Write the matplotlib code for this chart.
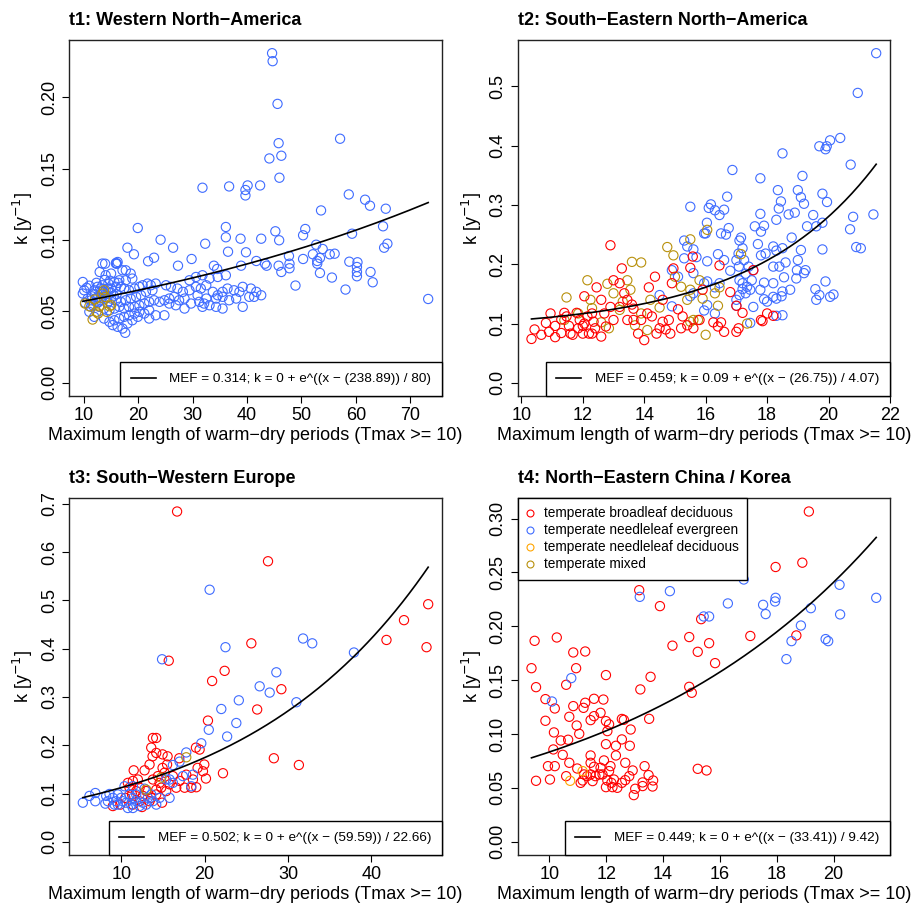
import numpy as np
import matplotlib
matplotlib.use("Agg")
import matplotlib.pyplot as plt
from matplotlib.lines import Line2D

plt.rcParams['font.family'] = ['Liberation Sans', 'DejaVu Sans']

# ---------------- colours (forest types) ----------------
C_BD = "#FF0000"   # temperate broadleaf deciduous
C_NE = "#3F6CFF"   # temperate needleleaf evergreen
C_ND = "#FFA500"   # temperate needleleaf deciduous
C_MX = "#B8900B"   # temperate mixed
legend_types = ["temperate broadleaf deciduous", "temperate needleleaf evergreen",
                "temperate needleleaf deciduous", "temperate mixed"]

XLABEL = "Maximum length of warm\u2212dry periods (Tmax >= 10)"
YLABEL = "k [y$^{-1}$]"

# ---------------- t1: Western North-America ----------------
t1_title = "t1: Western North\u2212America"
t1_ne_x = [44.6, 44.7, 45.6, 57.1, 44.1, 45.8, 46.3, 45.95, 58.7, 61.7, 62.6, 65.5, 53.6, 65.0, 65.2, 65.8,
           45.2, 45.9, 50.7, 50.3, 52.7, 53.9, 52.1, 55.2, 56.1, 59.3, 43.3, 43.6, 45.8, 46.3, 47.7, 47.8,
           47.8, 50.3, 52.9, 52.9, 53.4, 53.4, 55.6, 58.8, 60.3, 60.2, 60.2, 60.2, 62.7, 63.1, 58.1, 48.9, 73.3,
           31.8, 36.7, 40.1, 39.7, 39.7, 42.4, 19.9, 24.1, 32.3, 36.1, 36.1, 36.5, 38.8, 39.8, 42.6, 18.0,
           19.2, 26.4, 29.8, 27.3, 21.8, 22.9, 33.9, 34.5, 38.9, 41.7, 13.9, 16.1, 15.9,
           9.8, 10.05, 9.8, 10.7, 10.25, 11.3, 11.0, 11.9, 13.4, 12.9, 14.0, 15.0, 15.9, 16.2, 17.1, 17.7,
           18.6, 18.9, 17.7, 16.5, 15.6, 14.5, 13.4, 12.5, 11.9, 13.1, 14.0, 15.0, 15.9, 16.8, 17.4, 18.3,
           19.3, 20.2, 20.8, 21.7, 22.3, 23.2, 22.6, 21.4, 20.5, 19.6, 18.6, 17.7, 16.8, 15.9, 15.0, 14.0,
           13.1, 12.2, 11.3, 11.6, 12.8, 13.7, 14.7, 15.6, 16.5, 17.4, 18.3, 19.3, 20.2, 21.1, 22.0, 22.9,
           23.9, 24.8, 25.7, 26.6, 27.5, 28.5, 22.0, 21.1, 20.2, 19.3, 18.3, 17.4, 16.5, 15.6, 14.7, 13.7,
           15.3, 16.2, 17.1, 18.0, 18.9, 19.9, 22.0, 23.2, 24.8, 17.6,
           25.1, 26.0, 27.2, 28.2, 29.4, 30.6, 31.5, 32.5, 33.7, 34.6, 35.5, 36.4, 37.6, 38.6, 39.2, 40.7,
           41.7, 42.6, 25.7, 26.9, 28.5, 29.7, 31.2, 31.8, 33.1, 34.3, 35.5, 36.7, 38.0, 39.2, 40.4, 41.3,
           32.1, 30.9, 32.5, 34.3, 35.5, 29.4, 30.6, 31.8, 33.1, 34.6, 36.1,
           12.0, 12.5, 13.0, 13.5, 14.0, 14.5, 15.0, 15.5, 13.2, 14.3, 12.7, 16.0, 11.5, 10.5, 11.0, 12.3,
           13.8, 14.8, 16.3]
t1_ne_y = [0.2308, 0.2252, 0.1953, 0.1709, 0.1571, 0.1678, 0.159, 0.1436, 0.1319, 0.1282, 0.124, 0.1219, 0.1207,
           0.1096, 0.0946, 0.0974, 0.1061, 0.0998, 0.1077, 0.1033, 0.0967, 0.0937, 0.09, 0.09, 0.0904, 0.1044,
           0.0834, 0.082, 0.082, 0.0776, 0.0888, 0.0834, 0.0802, 0.0867, 0.0853, 0.0834, 0.0769, 0.0874, 0.0737,
           0.0848, 0.0844, 0.0811, 0.0776, 0.0746, 0.0776, 0.0704, 0.0653, 0.0681, 0.0587,
           0.1366, 0.1375, 0.1382, 0.135, 0.1312, 0.1382, 0.1084, 0.1002, 0.0974, 0.1091, 0.1019, 0.0918,
           0.1009, 0.0914, 0.1009, 0.0946, 0.09, 0.0946, 0.0867, 0.082, 0.0851, 0.0876, 0.082, 0.0797, 0.082,
           0.0853, 0.0834, 0.0834, 0.0839,
           0.0706, 0.0648, 0.0625, 0.059, 0.056, 0.0532, 0.0497, 0.0462, 0.0835, 0.0776, 0.0753, 0.0765,
           0.0835, 0.0846, 0.0788, 0.0788, 0.0765, 0.073, 0.0718, 0.0718, 0.0706, 0.0695, 0.0683, 0.0672,
           0.0648, 0.0637, 0.0648, 0.066, 0.0672, 0.0672, 0.066, 0.0648, 0.066, 0.0672, 0.0683, 0.0695,
           0.0683, 0.0695, 0.0648, 0.0637, 0.0613, 0.0602, 0.059, 0.0578, 0.0567, 0.0578, 0.059, 0.059,
           0.0578, 0.0567, 0.0578, 0.0543, 0.0532, 0.052, 0.0508, 0.052, 0.0532, 0.052, 0.0532, 0.0532,
           0.0543, 0.0555, 0.0567, 0.0578, 0.0567, 0.0578, 0.059, 0.0602, 0.0578, 0.059, 0.0508, 0.0485,
           0.0497, 0.0485, 0.0473, 0.0462, 0.045, 0.0438, 0.0427, 0.045, 0.0404, 0.0392, 0.038, 0.0415,
           0.0438, 0.0462, 0.045, 0.0473, 0.0473, 0.0350,
           0.0683, 0.0672, 0.066, 0.0637, 0.0648, 0.0672, 0.066, 0.0683, 0.0637, 0.0613, 0.0637, 0.066,
           0.0648, 0.0637, 0.0672, 0.066, 0.0637, 0.0613, 0.0555, 0.0543, 0.052, 0.0555, 0.0567, 0.0532,
           0.0543, 0.0532, 0.052, 0.0578, 0.059, 0.0532, 0.0602, 0.0602, 0.0555, 0.0613, 0.059, 0.059,
           0.0602, 0.0718, 0.0741, 0.0753, 0.073, 0.0741, 0.0753,
           0.062, 0.060, 0.066, 0.064, 0.062, 0.066, 0.063, 0.061, 0.0595, 0.056, 0.0565, 0.062, 0.0605,
           0.0665, 0.068, 0.070, 0.072, 0.0715, 0.070]
t1_mx_x = [10.2, 11.0, 11.6, 12.3, 12.8, 13.4, 13.9, 14.2, 14.7, 15.0, 12.0, 12.6, 13.7]
t1_mx_y = [0.0555, 0.0536, 0.0443, 0.0497, 0.0536, 0.0625, 0.0601, 0.0497, 0.0536, 0.0543, 0.0583, 0.0485, 0.0648]
t1_fit = dict(a=0.0, b=238.89, c=80.0, mef=0.314)
t1_xticks = [10, 20, 30, 40, 50, 60, 70]
t1_yticks = [0.00, 0.05, 0.10, 0.15, 0.20]
t1_yticklabels = ["0.00", "0.05", "0.10", "0.15", "0.20"]

# ---------------- t2: South-Eastern North-America ----------------
t2_title = "t2: South\u2212Eastern North\u2212America"
t2_ne_x = [21.55, 20.95, 20.38, 20.05, 19.94, 19.7, 19.9, 18.5, 16.87, 17.78, 20.72, 19.15, 18.35, 19.0, 19.1,
           19.8, 19.95, 19.2, 18.45, 18.38, 18.3, 18.7, 18.9, 19.5, 19.3, 19.6, 19.8, 20.7, 20.8, 21.46, 20.9,
           21.05, 19.8, 19.9, 19.57, 19.7, 19.6, 20.05, 20.16, 18.8, 17.78, 17.6, 17.9, 17.8, 17.7, 18.2,
           17.95, 17.8, 18.3, 18.5, 19.1, 19.0, 18.6, 18.4, 18.2, 18.55, 18.97, 19.2, 19.25, 18.95, 18.75,
           18.5, 18.2, 18.3, 18.47, 18.2, 17.9, 17.78, 17.9, 18.0, 18.5, 18.3, 15.5, 16.1, 16.17, 16.3, 16.45,
           16.6, 16.7, 16.04, 15.95, 16.0, 16.5, 16.66, 16.75, 15.3, 15.4, 15.6, 15.7, 15.3, 16.05, 16.4, 16.6,
           17.0, 17.1, 17.15, 17.2, 17.07, 16.8, 17.08, 17.25, 17.4, 17.55, 17.3, 17.1, 17.2, 17.35, 17.5,
           17.45, 17.2, 17.3, 17.1, 17.0, 17.55, 17.45, 16.3, 15.95, 16.05, 16.3, 16.45, 15.95, 16.05, 15.6,
           15.1, 14.9, 14.5, 14.9, 15.5, 15.6, 17.0]
t2_ne_y = [0.556, 0.489, 0.413, 0.409, 0.399, 0.399, 0.394, 0.387, 0.359, 0.345, 0.368, 0.349, 0.325, 0.325,
           0.313, 0.319, 0.305, 0.302, 0.306, 0.294, 0.275, 0.284, 0.287, 0.283, 0.264, 0.264, 0.270, 0.259,
           0.280, 0.284, 0.229, 0.227, 0.225, 0.171, 0.158, 0.148, 0.140, 0.145, 0.149, 0.245, 0.285, 0.264,
           0.265, 0.255, 0.234, 0.230, 0.218, 0.215, 0.223, 0.227, 0.224, 0.207, 0.203, 0.196, 0.196, 0.178,
           0.190, 0.185, 0.190, 0.176, 0.157, 0.154, 0.145, 0.142, 0.146, 0.168, 0.169, 0.157, 0.141, 0.137,
           0.114, 0.113, 0.297, 0.295, 0.301, 0.291, 0.283, 0.292, 0.314, 0.270, 0.252, 0.252, 0.252, 0.250,
           0.261, 0.240, 0.230, 0.225, 0.212, 0.210, 0.205, 0.217, 0.207, 0.207, 0.240, 0.245, 0.227, 0.218,
           0.189, 0.196, 0.207, 0.196, 0.190, 0.184, 0.173, 0.168, 0.162, 0.173, 0.157, 0.158, 0.151, 0.148,
           0.140, 0.128, 0.101, 0.117, 0.122, 0.131, 0.161, 0.168, 0.168, 0.171, 0.185, 0.179, 0.190, 0.148,
           0.129, 0.146, 0.151, 0.130]
t2_bd_x = [10.33, 10.43, 10.65, 10.8, 10.95, 10.9, 11.1, 11.3, 11.4, 11.47, 11.55, 11.6, 11.67, 11.8, 11.9,
           12.0, 12.0, 12.05, 12.05, 12.2, 12.3, 12.35, 12.4, 12.45, 12.6, 12.7, 12.75, 12.9, 12.9, 13.0, 13.2,
           13.27, 13.35, 13.45, 13.6, 13.65, 13.8, 13.9, 14.0, 14.1, 14.15, 14.35, 14.5, 14.6, 14.7, 14.8,
           14.9, 14.95, 15.1, 15.25, 15.4, 15.5, 15.58, 15.6, 15.8, 15.9, 16.25, 16.4, 16.5, 16.6, 16.45, 16.8,
           17.0, 17.07, 17.2, 17.0, 17.55, 17.8, 17.85, 18.0, 18.2, 14.6, 12.6, 13.0, 13.2, 13.45, 13.65,
           14.25, 14.4, 14.85, 15.2, 11.85, 12.15, 12.3, 11.1, 11.3]
t2_bd_y = [0.074, 0.090, 0.081, 0.101, 0.117, 0.086, 0.077, 0.107, 0.118, 0.112, 0.096, 0.083, 0.081, 0.118,
           0.106, 0.096, 0.083, 0.146, 0.100, 0.083, 0.117, 0.103, 0.092, 0.161, 0.140, 0.117, 0.095, 0.232,
           0.128, 0.173, 0.168, 0.193, 0.151, 0.140, 0.132, 0.125, 0.083, 0.106, 0.072, 0.117, 0.161, 0.179,
           0.092, 0.103, 0.090, 0.106, 0.168, 0.193, 0.124, 0.112, 0.097, 0.194, 0.213, 0.092, 0.106, 0.157,
           0.102, 0.095, 0.102, 0.086, 0.198, 0.153, 0.086, 0.092, 0.118, 0.130, 0.190, 0.106, 0.104, 0.117,
           0.113, 0.140, 0.078, 0.106, 0.128, 0.106, 0.106, 0.112, 0.083, 0.083, 0.092, 0.092, 0.112, 0.083,
           0.096, 0.084]
t2_mx_x = [11.47, 12.15, 12.8, 13.0, 13.6, 13.9, 13.45, 13.55, 14.75, 14.95, 15.5, 16.05, 15.8, 15.5, 15.9,
           16.45, 17.15, 16.0, 15.2, 15.0, 12.6, 12.85, 13.2, 13.3, 13.7, 13.9, 14.1, 14.2, 12.25, 12.3, 11.4,
           11.85, 14.5, 15.5, 15.6, 15.75, 15.4, 16.3, 16.4, 17.35]
t2_mx_y = [0.144, 0.173, 0.167, 0.151, 0.204, 0.203, 0.173, 0.157, 0.229, 0.215, 0.242, 0.258, 0.173, 0.157,
           0.142, 0.161, 0.217, 0.081, 0.162, 0.179, 0.102, 0.092, 0.123, 0.137, 0.097, 0.117, 0.089, 0.140,
           0.140, 0.126, 0.106, 0.117, 0.127, 0.103, 0.106, 0.106, 0.140, 0.151, 0.130, 0.100]
t2_fit = dict(a=0.09, b=26.75, c=4.07, mef=0.459)
t2_xticks = [10, 12, 14, 16, 18, 20, 22]
t2_yticks = [0.0, 0.1, 0.2, 0.3, 0.4, 0.5]
t2_yticklabels = ["0.0", "0.1", "0.2", "0.3", "0.4", "0.5"]

# ---------------- t3: South-Western Europe ----------------
t3_title = "t3: South\u2212Western Europe"
t3_bd_x = [16.7, 27.6, 25.6, 46.8, 43.9, 41.8, 46.6, 15.7, 22.4, 20.9, 29.2, 26.3, 20.4, 28.3, 31.3, 22.2,
           13.8, 14.2, 13.6, 14.2, 14.96, 15.56, 13.76, 19.4, 18.96, 19.96, 19.16, 20.16, 13.4, 12.8, 11.5,
           14.96, 15.5, 16.96, 16.2, 17.0, 17.8, 18.6, 19.0, 18.4, 17.6, 16.6, 15.8, 14.6, 14.9, 14.2, 13.6,
           13.0, 12.2, 11.4, 11.0, 10.5, 9.0, 9.9, 11.4, 12.5, 12.2, 13.4, 14.2, 14.8, 15.4, 11.8, 12.0, 11.3,
           12.6, 10.8, 13.8, 14.4, 15.2, 19.8]
t3_bd_y = [0.684, 0.581, 0.411, 0.492, 0.459, 0.418, 0.403, 0.375, 0.354, 0.333, 0.316, 0.274, 0.251, 0.173,
           0.159, 0.142, 0.215, 0.215, 0.195, 0.184, 0.181, 0.177, 0.177, 0.191, 0.195, 0.160, 0.153, 0.131,
           0.160, 0.148, 0.148, 0.153, 0.160, 0.173, 0.136, 0.126, 0.139, 0.129, 0.113, 0.112, 0.112, 0.112,
           0.119, 0.122, 0.081, 0.098, 0.091, 0.105, 0.112, 0.126, 0.112, 0.091, 0.074, 0.077, 0.077, 0.072,
           0.084, 0.084, 0.108, 0.112, 0.105, 0.105, 0.129, 0.098, 0.095, 0.122, 0.129, 0.136, 0.143, 0.146]
t3_ne_x = [20.6, 14.9, 22.5, 31.8, 32.9, 37.9, 28.6, 26.6, 27.8, 24.1, 31.0, 22.0, 23.8, 20.5, 22.7, 19.6,
           17.8, 17.0, 16.2, 15.8, 17.4, 18.6, 18.4, 15.8, 5.4, 6.2, 6.9, 6.9, 8.1, 8.2, 8.6, 9.0, 9.4, 9.6,
           10.0, 10.2, 10.6, 10.8, 11.2, 11.4, 11.8, 12.2, 12.6, 13.0, 13.2, 13.6, 11.8, 11.0, 10.4, 11.4,
           12.8, 13.8, 14.2, 14.6, 15.4, 16.2, 9.2, 9.6, 8.4, 11.4]
t3_ne_y = [0.522, 0.378, 0.403, 0.421, 0.411, 0.392, 0.351, 0.322, 0.309, 0.293, 0.289, 0.275, 0.246, 0.232,
           0.218, 0.204, 0.185, 0.166, 0.159, 0.129, 0.136, 0.139, 0.115, 0.091, 0.081, 0.095, 0.101, 0.084,
           0.079, 0.095, 0.099, 0.091, 0.084, 0.077, 0.091, 0.084, 0.081, 0.070, 0.077, 0.091, 0.084, 0.074,
           0.081, 0.077, 0.091, 0.098, 0.098, 0.098, 0.115, 0.115, 0.110, 0.084, 0.077, 0.091, 0.129, 0.122,
           0.077, 0.098, 0.084, 0.070]
t3_mx_x = [17.8, 13.0, 14.8]
t3_mx_y = [0.175, 0.108, 0.133]
t3_fit = dict(a=0.0, b=59.59, c=22.66, mef=0.502)
t3_xticks = [10, 20, 30, 40]
t3_yticks = [0.0, 0.1, 0.2, 0.3, 0.4, 0.5, 0.6, 0.7]
t3_yticklabels = ["0.0", "0.1", "0.2", "0.3", "0.4", "0.5", "0.6", "0.7"]

# ---------------- t4: North-Eastern China / Korea ----------------
t4_title = "t4: North\u2212Eastern China / Korea"
t4_bd_x = [19.13, 17.96, 18.9, 13.16, 13.89, 15.34, 14.92, 17.07, 18.69, 14.33, 15.62, 15.22, 15.83, 13.56,
           14.92, 15.01, 13.2, 13.51, 15.22, 15.53, 9.48, 10.26, 9.37, 9.53, 10.84, 11.26, 10.94, 10.59, 11.99,
           9.86, 10.19, 11.26, 11.57, 11.9, 11.2, 10.84, 9.86, 10.7, 11.57, 11.8, 11.45, 10.96, 11.99, 12.1,
           12.04, 12.62, 12.55, 12.86, 10.16, 11.05, 10.4, 10.66, 10.14, 12.55, 11.99, 12.34, 12.83, 10.47,
           10.7, 9.95, 10.19, 11.45, 12.34, 12.67, 10.98, 11.45, 11.57, 11.92, 12.15, 13.35, 12.93, 9.53,
           10.02, 10.59, 11.17, 11.22, 11.45, 11.62, 11.87, 12.04, 12.27, 12.22, 12.39, 11.99, 12.67, 12.81,
           13.02, 12.97, 13.28, 13.28, 13.49, 13.65, 13.63, 11.76, 11.33, 11.8, 12.1, 12.18, 11.52, 11.1, 12.55]
t4_bd_y = [0.3065, 0.255, 0.259, 0.2335, 0.2187, 0.2066, 0.190, 0.191, 0.1915, 0.182, 0.1843, 0.1763, 0.1658,
           0.1531, 0.1438, 0.1383, 0.1414, 0.1141, 0.0677, 0.0662, 0.1865, 0.1896, 0.1611, 0.1435, 0.1757,
           0.1766, 0.1611, 0.1457, 0.1547, 0.1324, 0.1237, 0.129, 0.1327, 0.132, 0.1243, 0.1259, 0.1123, 0.116,
           0.1166, 0.1197, 0.1129, 0.1079, 0.112, 0.109, 0.1027, 0.1132, 0.114, 0.1042, 0.1015, 0.1002, 0.094,
           0.0947, 0.0857, 0.095, 0.0906, 0.0891, 0.0891, 0.0807, 0.0733, 0.0702, 0.0702, 0.0801, 0.0801,
           0.0733, 0.068, 0.0733, 0.0696, 0.0755, 0.0702, 0.0702, 0.0662, 0.0566, 0.0578, 0.0609, 0.0569,
           0.0625, 0.0625, 0.0609, 0.0625, 0.0569, 0.0578, 0.0507, 0.0501, 0.0507, 0.0572, 0.0609, 0.0492,
           0.0433, 0.0517, 0.0551, 0.0619, 0.0569, 0.0513, 0.0625, 0.0609, 0.0687, 0.0656, 0.0547, 0.0563,
           0.0547, 0.0547]
t4_ne_x = [16.84, 14.24, 13.18, 16.28, 17.96, 17.94, 17.52, 17.61, 19.2, 20.21, 20.23, 21.5, 15.43, 15.62,
           18.85, 18.52, 18.34, 19.72, 19.81, 10.77, 10.09]
t4_ne_y = [0.2434, 0.2326, 0.2273, 0.2212, 0.2264, 0.223, 0.2199, 0.2113, 0.2168, 0.2385, 0.211, 0.2264,
           0.2091, 0.2091, 0.2007, 0.1862, 0.1695, 0.1881, 0.1862, 0.1519, 0.1302]
t4_nd_x = [10.73, 11.17]
t4_nd_y = [0.0566, 0.0656]
t4_fit = dict(a=0.0, b=33.41, c=9.42, mef=0.449)
t4_xticks = [10, 12, 14, 16, 18, 20]
t4_yticks = [0.00, 0.05, 0.10, 0.15, 0.20, 0.25, 0.30]
t4_yticklabels = ["0.00", "0.05", "0.10", "0.15", "0.20", "0.25", "0.30"]

# ---------------- drawing ----------------
FS_TICK = 13
FS_LAB = 13
FS_TITLE = 13
FS_LEG = 9.7
FS_LEG4 = 9.8
MS = 44
LW_PT = 0.8

fig = plt.figure(figsize=(9.2, 9.06), dpi=100)
W, H = 920.0, 906.0


def make_ax(l, r, t, b):
    return fig.add_axes([l / W, 1 - b / H, (r - l) / W, (b - t) / H])


def r_lim(lo, hi):
    d = (hi - lo) * 0.04
    return lo - d, hi + d


def fmt_num(v):
    return ("%.2f" % v).rstrip("0").rstrip(".")


def panel(ax, title, groups, fit, xticks, yticks, yticklabels, ymax):
    allx = np.concatenate([np.asarray(g[0], float) for g in groups])
    for gx, gy, col in groups:
        ax.scatter(gx, gy, s=MS, facecolors="none", edgecolors=col, linewidths=LW_PT, zorder=2)
    xs = np.linspace(allx.min(), allx.max(), 200)
    ks = fit["a"] + np.exp((xs - fit["b"]) / fit["c"])
    lab = "MEF = %.3f; k = %s + e^((x \u2212 (%s)) / %s)" % (
        fit["mef"], fmt_num(fit["a"]), "%.2f" % fit["b"], fmt_num(fit["c"]))
    ln, = ax.plot(xs, ks, color="black", lw=1.2, zorder=3)
    ax.set_xlim(*r_lim(allx.min(), allx.max()))
    ax.set_ylim(*r_lim(0, ymax))
    ax.set_xticks(xticks)
    ax.set_yticks(yticks)
    ax.set_yticklabels(yticklabels, rotation=90, va="center")
    ax.tick_params(direction="out", length=5, width=0.8, labelsize=FS_TICK, pad=3)
    for sp in ax.spines.values():
        sp.set_linewidth(1.0)
        sp.set_color("#222222")
    ax.set_xlabel(XLABEL, fontsize=FS_LAB, labelpad=2)
    ax.set_ylabel(YLABEL, fontsize=FS_LAB, labelpad=4)
    ax.set_title(title, loc="left", fontsize=FS_TITLE, fontweight="bold", pad=11)
    leg = ax.legend([ln], [lab], loc="lower right", borderaxespad=0, fancybox=False,
                    framealpha=1, edgecolor="black", fontsize=FS_LEG, handlelength=1.85,
                    handletextpad=1.0, borderpad=0.8)
    leg.get_frame().set_linewidth(1.0)
    return leg


ax1 = make_ax(69, 442, 40, 396)
panel(ax1, t1_title, [(t1_ne_x, t1_ne_y, C_NE), (t1_mx_x, t1_mx_y, C_MX)], t1_fit,
      t1_xticks, t1_yticks, t1_yticklabels, 0.2308)

ax2 = make_ax(517.7, 890, 40, 396)
panel(ax2, t2_title, [(t2_ne_x, t2_ne_y, C_NE), (t2_mx_x, t2_mx_y, C_MX), (t2_bd_x, t2_bd_y, C_BD)],
      t2_fit, t2_xticks, t2_yticks, t2_yticklabels, 0.556)

ax3 = make_ax(69, 442, 498.3, 855)
panel(ax3, t3_title, [(t3_bd_x, t3_bd_y, C_BD), (t3_ne_x, t3_ne_y, C_NE), (t3_mx_x, t3_mx_y, C_MX)],
      t3_fit, t3_xticks, t3_yticks, t3_yticklabels, 0.684)

ax4 = make_ax(517.7, 890, 498.3, 855)
leg4 = panel(ax4, t4_title, [(t4_bd_x, t4_bd_y, C_BD), (t4_ne_x, t4_ne_y, C_NE), (t4_nd_x, t4_nd_y, C_ND)],
             t4_fit, t4_xticks, t4_yticks, t4_yticklabels, 0.3065)
ax4.add_artist(leg4)
handles = [Line2D([], [], ls="none", marker="o", markersize=5.0, markerfacecolor="none",
                  markeredgecolor=c, markeredgewidth=0.8) for c in [C_BD, C_NE, C_ND, C_MX]]
lg = ax4.legend(handles, legend_types, loc="upper left", borderaxespad=0, fancybox=False,
                framealpha=1, edgecolor="black", fontsize=FS_LEG4, handlelength=0.6,
                handletextpad=0.7, labelspacing=0.22, borderpad=0.6)
lg.get_frame().set_linewidth(1.0)

fig.savefig("out.png", dpi=100)
